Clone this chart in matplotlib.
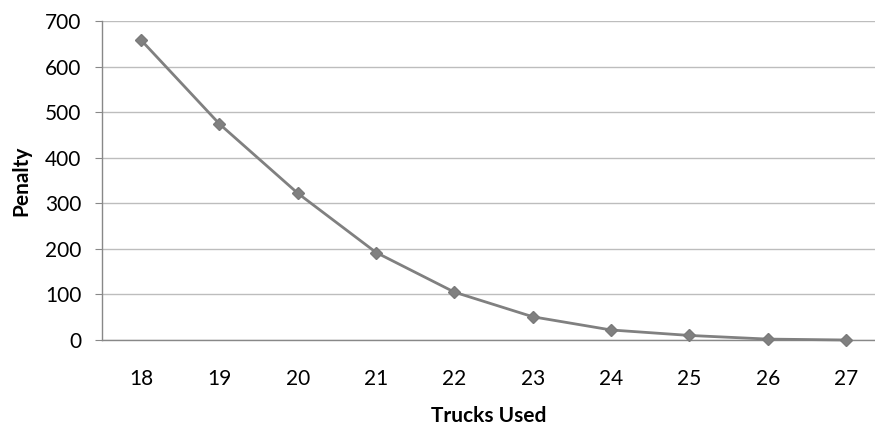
import matplotlib
matplotlib.use("Agg")
import matplotlib.pyplot as plt

trucks = ["18", "19", "20", "21", "22", "23", "24", "25", "26", "27"]
penalty = [658, 474, 322, 192, 105, 51, 22, 10, 2, 0]
yticks = [0, 100, 200, 300, 400, 500, 600, 700]

plt.rcParams["font.family"] = ["Lato", "DejaVu Sans"]

fig = plt.figure(figsize=(8.75, 4.29), dpi=100)
W, H = 875, 429
ax = fig.add_axes([102 / W, 1 - 340 / H, (875 - 102) / W, (340 - 21) / H])

x = list(range(len(trucks)))
ax.plot(x, penalty, color="#808080", lw=2.0, marker="D", ms=6,
        mec="#7a7a7a", mfc="#808080", mew=1.0, zorder=3, clip_on=False)

ax.set_ylim(0, 700)
ax.set_xlim(-0.5, 9.37)
ax.set_yticks(yticks)
ax.set_xticks(x)
ax.set_xticklabels(trucks)
ax.yaxis.grid(True, color="#bdbdbd", lw=1.0)
ax.set_axisbelow(True)

for s in ["top", "right"]:
    ax.spines[s].set_visible(False)
ax.spines["left"].set_color("#888888")
ax.spines["bottom"].set_color("#888888")
ax.spines["left"].set_linewidth(1.0)
ax.spines["bottom"].set_linewidth(1.0)

ax.tick_params(axis="y", length=5, color="#888888", labelsize=15, pad=10, labelcolor="black")
ax.tick_params(axis="x", length=0, labelsize=15, pad=21, labelcolor="black")

ax.set_xlabel("Trucks Used", fontsize=15, fontweight="bold", labelpad=12)
ax.set_ylabel("Penalty", fontsize=15, fontweight="bold", labelpad=10)

fig.savefig("out.png", dpi=100)
